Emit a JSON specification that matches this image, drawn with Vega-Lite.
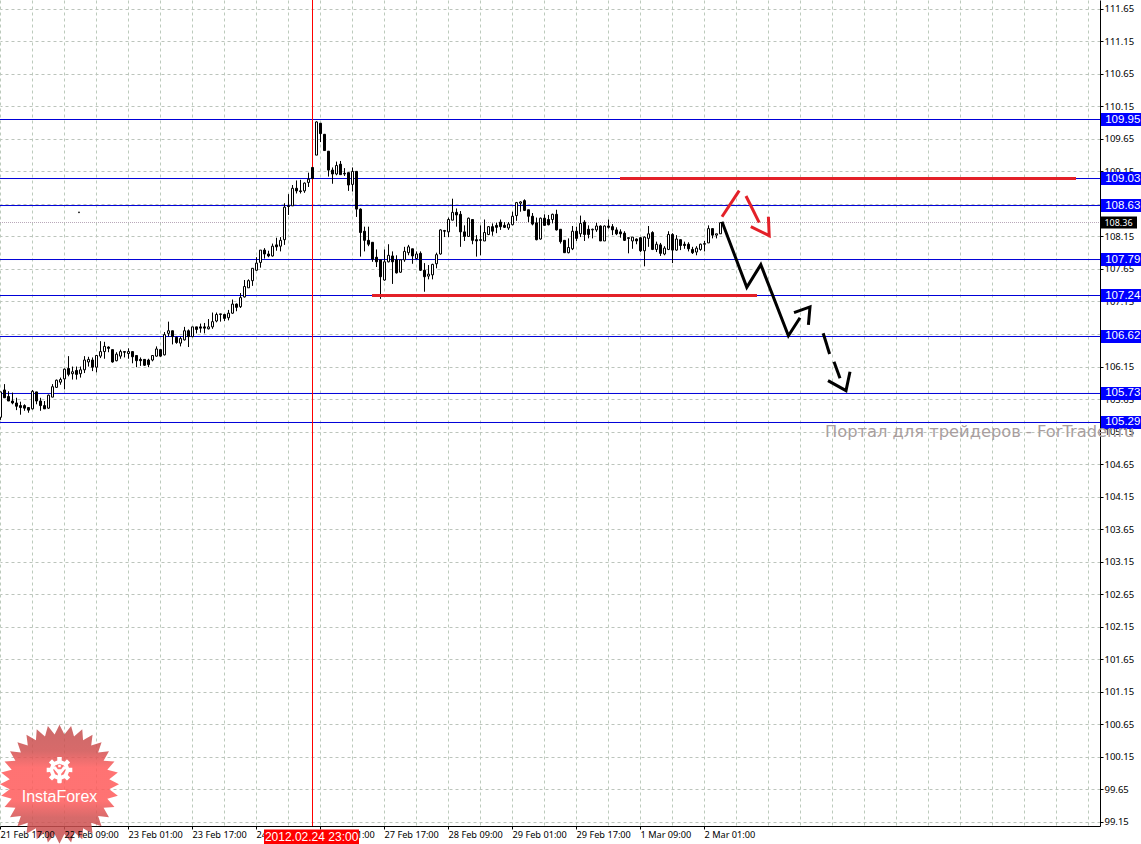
{"$schema":"https://vega.github.io/schema/vega-lite/v6.json","width":1100,"height":826,"autosize":{"type":"none"},"padding":{"left":0,"top":0,"right":41,"bottom":18},"background":"white","view":{"stroke":null},"config":{"font":"Liberation Sans"},"datasets":{"levels":[{"p":109.947,"label":"109.95"},{"p":109.04,"label":"109.03"},{"p":108.625,"label":"108.63"},{"p":107.795,"label":"107.79"},{"p":107.242,"label":"107.24"},{"p":106.612,"label":"106.62"},{"p":105.736,"label":"105.73"},{"p":105.29,"label":"105.29"}],"bid":[{"p":108.364,"label":"108.36"}],"marks":[{"g":"r0","kind":"red","t":155,"p":109.04,"i":0},{"g":"r0","kind":"red","t":269,"p":109.04,"i":1},{"g":"r00","kind":"red","t":93,"p":107.242,"i":0},{"g":"r00","kind":"red","t":189.25,"p":107.242,"i":1},{"g":"r1","kind":"red","t":180.5,"p":108.453,"i":0},{"g":"r1","kind":"red","t":184.8,"p":108.853,"i":1},{"g":"r2","kind":"red","t":186.5,"p":108.771,"i":0},{"g":"r2","kind":"red","t":189.8,"p":108.361,"i":1},{"g":"r3","kind":"red","t":187.7,"p":108.3,"i":0},{"g":"r3","kind":"red","t":192.3,"p":108.161,"i":1},{"g":"r3","kind":"red","t":192.1,"p":108.453,"i":2},{"g":"b1","kind":"black","t":180.5,"p":108.376,"i":0},{"g":"b1","kind":"black","t":186.7,"p":107.368,"i":1},{"g":"b1","kind":"black","t":190.2,"p":107.716,"i":2},{"g":"b1","kind":"black","t":197.1,"p":106.624,"i":3},{"g":"b1","kind":"black","t":200,"p":106.901,"i":4},{"g":"b2","kind":"black","t":198.5,"p":106.978,"i":0},{"g":"b2","kind":"black","t":202.5,"p":107.066,"i":1},{"g":"b2","kind":"black","t":202.1,"p":106.789,"i":2},{"g":"b3","kind":"black","t":205.8,"p":106.661,"i":0},{"g":"b3","kind":"black","t":207.4,"p":106.343,"i":1},{"g":"b4","kind":"black","t":208.5,"p":106.225,"i":0},{"g":"b4","kind":"black","t":210,"p":105.969,"i":1},{"g":"b5","kind":"black","t":207,"p":105.933,"i":0},{"g":"b5","kind":"black","t":211.5,"p":105.779,"i":1},{"g":"b5","kind":"black","t":212.5,"p":106.071,"i":2}],"candles":[
{"t":0,"o":105.37,"h":105.76,"l":105.33,"c":105.76},{"t":1,"o":105.79,"h":105.88,"l":105.67,"c":105.67},{"t":2,"o":105.69,"h":105.77,"l":105.62,"c":105.62},{"t":3,"o":105.62,"h":105.75,"l":105.57,"c":105.59},{"t":4,"o":105.59,"h":105.67,"l":105.48,"c":105.54},{"t":5,"o":105.55,"h":105.61,"l":105.41,"c":105.52},{"t":6,"o":105.55,"h":105.57,"l":105.47,"c":105.51},{"t":7,"o":105.52,"h":105.52,"l":105.44,"c":105.48},{"t":8,"o":105.5,"h":105.79,"l":105.49,"c":105.77},{"t":9,"o":105.76,"h":105.76,"l":105.57,"c":105.62},
{"t":10,"o":105.62,"h":105.67,"l":105.47,"c":105.55},{"t":11,"o":105.55,"h":105.62,"l":105.5,"c":105.5},{"t":12,"o":105.51,"h":105.72,"l":105.5,"c":105.71},{"t":13,"o":105.68,"h":105.88,"l":105.68,"c":105.84},{"t":14,"o":105.83,"h":105.95,"l":105.82,"c":105.94},{"t":15,"o":105.91,"h":105.98,"l":105.87,"c":105.95},{"t":16,"o":105.96,"h":106.12,"l":105.8,"c":106.11},{"t":17,"o":106.12,"h":106.31,"l":106,"c":106.03},{"t":18,"o":106.04,"h":106.15,"l":105.95,"c":106.07},{"t":19,"o":106.09,"h":106.15,"l":105.95,"c":106.03},
{"t":20,"o":106.04,"h":106.15,"l":105.98,"c":106.1},{"t":21,"o":106.1,"h":106.31,"l":106.05,"c":106.25},{"t":22,"o":106.22,"h":106.3,"l":106.15,"c":106.26},{"t":23,"o":106.25,"h":106.29,"l":106.08,"c":106.14},{"t":24,"o":106.14,"h":106.32,"l":106.06,"c":106.32},{"t":25,"o":106.31,"h":106.54,"l":106.28,"c":106.38},{"t":26,"o":106.38,"h":106.53,"l":106.27,"c":106.46},{"t":27,"o":106.45,"h":106.46,"l":106.37,"c":106.43},{"t":28,"o":106.41,"h":106.41,"l":106.21,"c":106.22},{"t":29,"o":106.24,"h":106.37,"l":106.23,"c":106.34},
{"t":30,"o":106.31,"h":106.41,"l":106.27,"c":106.38},{"t":31,"o":106.38,"h":106.38,"l":106.29,"c":106.37},{"t":32,"o":106.35,"h":106.43,"l":106.27,"c":106.38},{"t":33,"o":106.38,"h":106.38,"l":106.2,"c":106.3},{"t":34,"o":106.32,"h":106.32,"l":106.14,"c":106.24},{"t":35,"o":106.26,"h":106.29,"l":106.16,"c":106.24},{"t":36,"o":106.26,"h":106.26,"l":106.16,"c":106.17},{"t":37,"o":106.25,"h":106.27,"l":106.14,"c":106.18},{"t":38,"o":106.25,"h":106.32,"l":106.23,"c":106.32},{"t":39,"o":106.31,"h":106.46,"l":106.3,"c":106.42},
{"t":40,"o":106.41,"h":106.41,"l":106.3,"c":106.31},{"t":41,"o":106.33,"h":106.68,"l":106.32,"c":106.64},{"t":42,"o":106.66,"h":106.84,"l":106.61,"c":106.7},{"t":43,"o":106.7,"h":106.7,"l":106.49,"c":106.61},{"t":44,"o":106.6,"h":106.61,"l":106.5,"c":106.52},{"t":45,"o":106.51,"h":106.61,"l":106.46,"c":106.58},{"t":46,"o":106.56,"h":106.76,"l":106.55,"c":106.7},{"t":47,"o":106.7,"h":106.72,"l":106.45,"c":106.61},{"t":48,"o":106.61,"h":106.76,"l":106.6,"c":106.76},{"t":49,"o":106.76,"h":106.76,"l":106.66,"c":106.72},
{"t":50,"o":106.76,"h":106.81,"l":106.67,"c":106.74},{"t":51,"o":106.76,"h":106.82,"l":106.66,"c":106.74},{"t":52,"o":106.73,"h":106.88,"l":106.72,"c":106.76},{"t":53,"o":106.76,"h":106.98,"l":106.73,"c":106.84},{"t":54,"o":106.85,"h":106.98,"l":106.83,"c":106.95},{"t":55,"o":106.95,"h":106.96,"l":106.84,"c":106.96},{"t":56,"o":106.95,"h":106.96,"l":106.85,"c":106.89},{"t":57,"o":106.9,"h":107.02,"l":106.86,"c":106.97},{"t":58,"o":106.97,"h":107.18,"l":106.96,"c":107.11},{"t":59,"o":107.11,"h":107.12,"l":107,"c":107.06},
{"t":60,"o":107.07,"h":107.28,"l":107.05,"c":107.21},{"t":61,"o":107.22,"h":107.48,"l":107.21,"c":107.38},{"t":62,"o":107.36,"h":107.49,"l":107.36,"c":107.47},{"t":63,"o":107.47,"h":107.66,"l":107.39,"c":107.66},{"t":64,"o":107.63,"h":107.83,"l":107.62,"c":107.74},{"t":65,"o":107.75,"h":107.94,"l":107.67,"c":107.94},{"t":66,"o":107.94,"h":107.97,"l":107.81,"c":107.88},{"t":67,"o":107.88,"h":107.93,"l":107.83,"c":107.85},{"t":68,"o":107.85,"h":108.04,"l":107.84,"c":108},{"t":69,"o":108.02,"h":108.13,"l":107.93,"c":107.99},
{"t":70,"o":108,"h":108.14,"l":107.92,"c":108.09},{"t":71,"o":108.1,"h":108.66,"l":108.02,"c":108.6},{"t":72,"o":108.62,"h":108.8,"l":108.48,"c":108.61},{"t":73,"o":108.62,"h":108.94,"l":108.62,"c":108.89},{"t":74,"o":108.89,"h":109.01,"l":108.81,"c":108.85},{"t":75,"o":108.85,"h":109.02,"l":108.81,"c":108.84},{"t":76,"o":108.85,"h":108.98,"l":108.82,"c":108.97},{"t":77,"o":108.98,"h":109.13,"l":108.91,"c":109.03},{"t":78,"o":109.21,"h":109.21,"l":109.03,"c":109.04},{"t":79,"o":109.4,"h":109.92,"l":109.4,"c":109.91},
{"t":80,"o":109.89,"h":109.89,"l":109.6,"c":109.73},{"t":81,"o":109.72,"h":109.72,"l":109.47,"c":109.47},{"t":82,"o":109.46,"h":109.46,"l":109.07,"c":109.17},{"t":83,"o":109.17,"h":109.21,"l":108.96,"c":109.11},{"t":84,"o":109.11,"h":109.3,"l":109.09,"c":109.24},{"t":85,"o":109.26,"h":109.31,"l":109.1,"c":109.1},{"t":86,"o":109.12,"h":109.2,"l":109.08,"c":109.11},{"t":87,"o":109.13,"h":109.13,"l":108.85,"c":108.94},{"t":88,"o":108.95,"h":109.21,"l":108.84,"c":109.15},{"t":89,"o":109.15,"h":109.15,"l":108.45,"c":108.57},
{"t":90,"o":108.57,"h":108.58,"l":107.84,"c":108.21},{"t":91,"o":108.23,"h":108.3,"l":107.92,"c":108.09},{"t":92,"o":108.09,"h":108.3,"l":108,"c":108.03},{"t":93,"o":108.06,"h":108.06,"l":107.76,"c":107.8},{"t":94,"o":107.83,"h":107.95,"l":107.68,"c":107.76},{"t":95,"o":107.79,"h":107.79,"l":107.19,"c":107.53},{"t":96,"o":107.48,"h":107.95,"l":107.47,"c":107.76},{"t":97,"o":107.76,"h":108.03,"l":107.75,"c":107.86},{"t":98,"o":107.85,"h":107.92,"l":107.42,"c":107.76},{"t":99,"o":107.79,"h":107.86,"l":107.58,"c":107.59},
{"t":100,"o":107.6,"h":107.8,"l":107.59,"c":107.79},{"t":101,"o":107.79,"h":107.99,"l":107.76,"c":107.92},{"t":102,"o":107.9,"h":108.02,"l":107.86,"c":107.99},{"t":103,"o":107.96,"h":107.96,"l":107.73,"c":107.85},{"t":104,"o":107.81,"h":107.92,"l":107.8,"c":107.88},{"t":105,"o":107.89,"h":107.92,"l":107.62,"c":107.63},{"t":106,"o":107.63,"h":107.74,"l":107.3,"c":107.53},{"t":107,"o":107.54,"h":107.71,"l":107.49,"c":107.57},{"t":108,"o":107.56,"h":107.73,"l":107.49,"c":107.72},{"t":109,"o":107.73,"h":107.9,"l":107.66,"c":107.87},
{"t":110,"o":107.88,"h":108.26,"l":107.87,"c":108.25},{"t":111,"o":108.24,"h":108.25,"l":108.14,"c":108.23},{"t":112,"o":108.22,"h":108.44,"l":108.14,"c":108.41},{"t":113,"o":108.4,"h":108.73,"l":108.4,"c":108.52},{"t":114,"o":108.52,"h":108.58,"l":108.3,"c":108.48},{"t":115,"o":108.49,"h":108.54,"l":107.99,"c":108.22},{"t":116,"o":108.22,"h":108.32,"l":108.08,"c":108.15},{"t":117,"o":108.15,"h":108.44,"l":108.15,"c":108.43},{"t":118,"o":108.41,"h":108.41,"l":108.03,"c":108.09},{"t":119,"o":108.1,"h":108.17,"l":107.84,"c":108.08},
{"t":120,"o":108.1,"h":108.32,"l":107.86,"c":108.09},{"t":121,"o":108.08,"h":108.41,"l":108.08,"c":108.21},{"t":122,"o":108.18,"h":108.31,"l":108.17,"c":108.3},{"t":123,"o":108.3,"h":108.35,"l":108.16,"c":108.23},{"t":124,"o":108.32,"h":108.36,"l":108.2,"c":108.29},{"t":125,"o":108.37,"h":108.41,"l":108.25,"c":108.3},{"t":126,"o":108.32,"h":108.37,"l":108.28,"c":108.29},{"t":127,"o":108.28,"h":108.37,"l":108.25,"c":108.34},{"t":128,"o":108.33,"h":108.53,"l":108.32,"c":108.46},{"t":129,"o":108.47,"h":108.68,"l":108.39,"c":108.67},
{"t":130,"o":108.66,"h":108.69,"l":108.53,"c":108.68},{"t":131,"o":108.7,"h":108.72,"l":108.54,"c":108.55},{"t":132,"o":108.56,"h":108.56,"l":108.37,"c":108.46},{"t":133,"o":108.46,"h":108.51,"l":108.32,"c":108.34},{"t":134,"o":108.36,"h":108.44,"l":108.09,"c":108.1},{"t":135,"o":108.11,"h":108.44,"l":108.1,"c":108.43},{"t":136,"o":108.43,"h":108.49,"l":108.32,"c":108.32},{"t":137,"o":108.41,"h":108.48,"l":108.32,"c":108.33},{"t":138,"o":108.41,"h":108.5,"l":108.35,"c":108.49},{"t":139,"o":108.49,"h":108.56,"l":108.24,"c":108.25},
{"t":140,"o":108.26,"h":108.26,"l":108.04,"c":108.07},{"t":141,"o":108.09,"h":108.09,"l":107.9,"c":107.9},{"t":142,"o":107.9,"h":108.12,"l":107.89,"c":107.98},{"t":143,"o":107.96,"h":108.31,"l":107.94,"c":108.23},{"t":144,"o":108.23,"h":108.3,"l":108.08,"c":108.12},{"t":145,"o":108.19,"h":108.47,"l":108.14,"c":108.35},{"t":146,"o":108.37,"h":108.4,"l":108.08,"c":108.18},{"t":147,"o":108.26,"h":108.32,"l":108.12,"c":108.18},{"t":148,"o":108.25,"h":108.27,"l":108.12,"c":108.26},{"t":149,"o":108.25,"h":108.36,"l":108.22,"c":108.31},
{"t":150,"o":108.31,"h":108.32,"l":108.08,"c":108.08},{"t":151,"o":108.08,"h":108.32,"l":108.08,"c":108.31},{"t":152,"o":108.31,"h":108.41,"l":108.27,"c":108.29},{"t":153,"o":108.3,"h":108.34,"l":108.17,"c":108.25},{"t":154,"o":108.25,"h":108.29,"l":108.17,"c":108.19},{"t":155,"o":108.22,"h":108.26,"l":108.13,"c":108.19},{"t":156,"o":108.2,"h":108.23,"l":108.08,"c":108.09},{"t":157,"o":108.13,"h":108.13,"l":107.89,"c":108.12},{"t":158,"o":108.08,"h":108.14,"l":107.96,"c":108.14},{"t":159,"o":108.11,"h":108.12,"l":108.03,"c":108.08},
{"t":160,"o":108.13,"h":108.14,"l":107.91,"c":107.93},{"t":161,"o":107.93,"h":108.15,"l":107.69,"c":108.14},{"t":162,"o":108.12,"h":108.31,"l":107.99,"c":108.19},{"t":163,"o":108.21,"h":108.23,"l":107.94,"c":107.95},{"t":164,"o":107.95,"h":108.07,"l":107.91,"c":108.03},{"t":165,"o":108.02,"h":108.05,"l":107.85,"c":107.89},{"t":166,"o":107.88,"h":108,"l":107.86,"c":107.97},{"t":167,"o":107.95,"h":108.23,"l":107.94,"c":108.18},{"t":168,"o":108.18,"h":108.2,"l":107.74,"c":107.94},{"t":169,"o":107.94,"h":108.17,"l":107.93,"c":108.11},
{"t":170,"o":108.1,"h":108.1,"l":107.94,"c":108.01},{"t":171,"o":108.03,"h":108.07,"l":107.96,"c":108.01},{"t":172,"o":108.03,"h":108.06,"l":107.92,"c":107.96},{"t":173,"o":107.95,"h":107.99,"l":107.88,"c":107.9},{"t":174,"o":107.91,"h":108,"l":107.86,"c":107.97},{"t":175,"o":107.95,"h":108.04,"l":107.93,"c":108.03},{"t":176,"o":108.03,"h":108.08,"l":107.92,"c":108.04},{"t":177,"o":108.05,"h":108.32,"l":108.05,"c":108.27},{"t":178,"o":108.27,"h":108.27,"l":108.12,"c":108.17},{"t":179,"o":108.17,"h":108.19,"l":108.12,"c":108.19},{"t":180,"o":108.19,"h":108.37,"l":108.19,"c":108.36}]},
"layer":[
{"data":{"name":"levels"},"mark":{"type":"rule","color":"#0000d8","strokeWidth":1},"encoding":{"y":{"field":"p","type":"quantitative","scale":{"domain":[99.088,111.784],"nice":false,"zero":false,"padding":0},"axis":null},"x":{"datum":0,"type":"quantitative","scale":{"domain":[0,275],"nice":false,"zero":false,"padding":0},"axis":null},"x2":{"datum":275}}},
{"data":{"name":"bid"},"mark":{"type":"rule","color":"#b9a8b9","strokeWidth":1,"strokeDash":[1,1]},"encoding":{"y":{"field":"p","type":"quantitative","axis":null},"x":{"datum":0,"type":"quantitative","axis":null},"x2":{"datum":275}}},
{"data":{"values":[{"t":78}]},"mark":{"type":"rule","color":"#ff0000","strokeWidth":1,"xOffset":0.5},"encoding":{"x":{"field":"t","type":"quantitative","axis":null}}},
{"data":{"name":"candles"},"mark":{"type":"rule","color":"#000000","strokeWidth":1,"xOffset":0.5},"encoding":{"x":{"field":"t","type":"quantitative","axis":{"title":null,"orient":"bottom","values":[0,8,16,24,32,40,48,56,64,72,80,88,96,104,112,120,128,136,144,152,160,168,176,184,192,200,208,216,224,232,240,248,256,264,272],"grid":true,"gridColor":"#bccabc","gridDash":[3,3],"gridWidth":1,"labelAlign":"left","labelBaseline":"top","labelFont":"Noto Sans","labelFontSize":9.2,"labelColor":"#000000","labelPadding":1,"labelOverlap":false,"labelBound":false,"labelFlush":false,"tickSize":3,"tickColor":"#000000","tickOpacity":{"condition":{"test":"datum.value % 16 == 0 && datum.value < 192","value":1},"value":0},"domainColor":"#000000","domainWidth":1,"labelExpr":"datum.value==32?'23 Feb 01:00':datum.value==48?'23 Feb 17:00':datum.value==64?'24 Feb 09:00':datum.value==80?'27 Feb 01:00':datum.value==96?'27 Feb 17:00':datum.value==112?'28 Feb 09:00':datum.value==128?'29 Feb 01:00':datum.value==144?'29 Feb 17:00':datum.value==160?'1 Mar 09:00':datum.value==176?'2 Mar 01:00':''"}},"y":{"field":"l","type":"quantitative","axis":{"title":null,"orient":"right","values":[99.15,99.65,100.15,100.65,101.15,101.65,102.15,102.65,103.15,103.65,104.15,104.65,105.15,105.65,106.15,106.65,107.15,107.65,108.15,108.65,109.15,109.65,110.15,110.65,111.15,111.65],"format":".2f","grid":true,"gridColor":"#bcc4bc","gridDash":[3,3],"gridWidth":1,"labelFont":"Noto Sans","labelFontSize":9.5,"labelColor":"#000000","labelPadding":1,"labelOverlap":false,"labelBound":false,"labelFlush":false,"tickSize":3,"tickColor":"#000000","domainColor":"#000000","domainWidth":1}},"y2":{"field":"h"}}},
{"data":{"name":"candles"},"mark":{"type":"bar","size":2,"orient":"vertical","stroke":"#000000","strokeWidth":1,"xOffset":0.5},"encoding":{"x":{"field":"t","type":"quantitative","axis":null},"y":{"field":"o","type":"quantitative","axis":null},"y2":{"field":"c"},"fill":{"condition":{"test":"datum.c>=datum.o","value":"#ffffff"},"value":"#000000"}}},
{"data":{"name":"marks"},"mark":{"type":"line","strokeWidth":3,"strokeCap":"butt","strokeJoin":"miter"},"encoding":{"x":{"field":"t","type":"quantitative","axis":null},"y":{"field":"p","type":"quantitative","axis":null},"order":{"field":"i","type":"ordinal"},"detail":{"field":"g","type":"nominal"},"color":{"field":"kind","type":"nominal","scale":{"domain":["red","black"],"range":["#e32028","#000000"]},"legend":null}}},
{"data":{"values":[{"t":19.75,"p":108.52}]},"mark":{"type":"point","filled":true,"size":3,"color":"#000000","opacity":1},"encoding":{"x":{"field":"t","type":"quantitative","axis":null},"y":{"field":"p","type":"quantitative","axis":null}}},
{"data":{"name":"levels"},"mark":{"type":"bar","orient":"horizontal","size":13,"color":"#0000ff"},"encoding":{"y":{"field":"p","type":"quantitative","axis":null},"x":{"datum":275.25,"type":"quantitative","axis":null},"x2":{"datum":285.25}}},
{"data":{"name":"levels"},"mark":{"type":"text","align":"left","baseline":"middle","color":"#ffffff","font":"Liberation Sans","fontSize":11.5},"encoding":{"y":{"field":"p","type":"quantitative","axis":null},"x":{"datum":276.3,"type":"quantitative","axis":null},"text":{"field":"label"}}},
{"data":{"name":"bid"},"mark":{"type":"bar","orient":"horizontal","size":12,"color":"#000000"},"encoding":{"y":{"field":"p","type":"quantitative","axis":null},"x":{"datum":275.25,"type":"quantitative","axis":null},"x2":{"datum":284.25}}},
{"data":{"name":"bid"},"mark":{"type":"text","align":"left","baseline":"middle","color":"#ffffff","font":"Noto Sans","fontSize":9},"encoding":{"y":{"field":"p","type":"quantitative","axis":null},"x":{"datum":276.1,"type":"quantitative","axis":null},"text":{"field":"label"}}},
{"data":{"values":[{"t":206.25,"p":105.144,"s":"Портал для трейдеров - ForTrader.ru"}]},"mark":{"type":"text","align":"left","baseline":"middle","color":"#a89e9e","font":"DejaVu Sans","fontSize":16.3},"encoding":{"x":{"field":"t","type":"quantitative","axis":null},"y":{"field":"p","type":"quantitative","axis":null},"text":{"field":"s"}}},
{"data":{"values":[{"t":14.875,"p":99.73}]},"mark":{"type":"point","size":14160,"filled":true,"opacity":0.85,"fill":{"gradient":"linear","x1":0,"y1":0,"x2":0,"y2":1,"stops":[{"offset":0,"color":"#c44f4f"},{"offset":0.22,"color":"#d05050"},{"offset":0.36,"color":"#ff5a5a"},{"offset":0.64,"color":"#ff5a5a"},{"offset":0.78,"color":"#d05050"},{"offset":1,"color":"#c44f4f"}]},"shape":"M0,-1 L.0823,-.836 L.1951,-.9808 L.2439,-.8038 L.3827,-.9239 L.396,-.7408 L.5556,-.8315 L.5329,-.6493 L.7071,-.7071 L.6493,-.5329 L.8315,-.5556 L.7408,-.396 L.9239,-.3827 L.8038,-.2439 L.9808,-.1951 L.836,-.0823 L1,0 L.836,.0823 L.9808,.1951 L.8038,.2439 L.9239,.3827 L.7408,.396 L.8315,.5556 L.6493,.5329 L.7071,.7071 L.5329,.6493 L.5556,.8315 L.396,.7408 L.3827,.9239 L.2439,.8038 L.1951,.9808 L.0823,.836 L0,1 L-.0823,.836 L-.1951,.9808 L-.2439,.8038 L-.3827,.9239 L-.396,.7408 L-.5556,.8315 L-.5329,.6493 L-.7071,.7071 L-.6493,.5329 L-.8315,.5556 L-.7408,.396 L-.9239,.3827 L-.8038,.2439 L-.9808,.1951 L-.836,.0823 L-1,0 L-.836,-.0823 L-.9808,-.1951 L-.8038,-.2439 L-.9239,-.3827 L-.7408,-.396 L-.8315,-.5556 L-.6493,-.5329 L-.7071,-.7071 L-.5329,-.6493 L-.5556,-.8315 L-.396,-.7408 L-.3827,-.9239 L-.2439,-.8038 L-.1951,-.9808 L-.0823,-.836 Z"},"encoding":{"x":{"field":"t","type":"quantitative","axis":{"title":null,"orient":"bottom","values":[0,16],"zindex":1,"grid":false,"ticks":false,"domain":false,"labelAlign":"left","labelBaseline":"top","labelFont":"Noto Sans","labelFontSize":9.2,"labelColor":"#000000","labelPadding":4,"labelOverlap":false,"labelBound":false,"labelFlush":false,"labelExpr":"datum.value==0?'21 Feb 17:00':'22 Feb 09:00'"}},"y":{"field":"p","type":"quantitative","axis":null}}},
{"data":{"values":[{"t":14.875,"p":99.95}]},"mark":{"type":"point","size":676,"filled":true,"opacity":1,"color":"#ffffff","shape":"M-.169,-.731 L-.174,-.985 L.174,-.985 L.169,-.731 L.397,-.636 L.574,-.819 L.819,-.574 L.636,-.397 L.731,-.169 L.985,-.174 L.985,.174 L.731,.169 L.636,.397 L.819,.574 L.574,.819 L.397,.636 L.169,.731 L.174,.985 L-.174,.985 L-.169,.731 L-.397,.636 L-.574,.819 L-.819,.574 L-.636,.397 L-.731,.169 L-.985,.174 L-.985,-.174 L-.731,-.169 L-.636,-.397 L-.819,-.574 L-.574,-.819 L-.397,-.636 Z M0,-.48 L-.34,-.34 L-.48,0 L-.34,.34 L0,.48 L.34,.34 L.48,0 L.34,-.34 Z M-.13,-.05 L.13,-.05 L.13,1.02 L-.13,1.02 Z M-.5,-.15 L-.3,-.28 L.13,.3 L-.13,.3 Z M.5,-.15 L.13,.3 L-.13,.3 L.3,-.28 Z M-.1,-.4 L.1,-.4 L.1,-.2 L-.1,-.2 Z"},"encoding":{"x":{"field":"t","type":"quantitative","axis":null},"y":{"field":"p","type":"quantitative","axis":null}}},
{"data":{"values":[{"t":14.875,"p":99.534,"s":"InstaForex"}]},"mark":{"type":"text","align":"center","baseline":"middle","color":"#ffffff","font":"Liberation Sans","fontSize":16},"encoding":{"x":{"field":"t","type":"quantitative","axis":null},"y":{"field":"p","type":"quantitative","axis":null},"text":{"field":"s"}}},
{"data":{"values":[{"p":98.919}]},"mark":{"type":"bar","orient":"horizontal","size":15,"color":"#ff0000"},"encoding":{"y":{"field":"p","type":"quantitative","axis":null},"x":{"datum":66,"type":"quantitative","axis":null},"x2":{"datum":89.75}}},
{"data":{"values":[{"t":77.9,"p":98.919,"s":"2012.02.24 23:00"}]},"mark":{"type":"text","align":"center","baseline":"middle","color":"#ffffff","font":"Liberation Sans","fontSize":12},"encoding":{"x":{"field":"t","type":"quantitative","axis":null},"y":{"field":"p","type":"quantitative","axis":null},"text":{"field":"s"}}}
],
"resolve":{"axis":{"x":"independent","y":"independent"}}}
